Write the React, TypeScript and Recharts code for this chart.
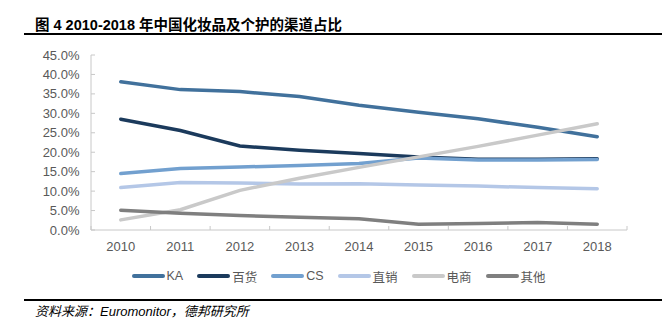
import React from "react";
import { LineChart, Line, XAxis, YAxis } from "recharts";

const years = ["2010", "2011", "2012", "2013", "2014", "2015", "2016", "2017", "2018"];
const seriesNames = ["KA", "百货", "CS", "直销", "电商", "其他"];
const seriesColors = ["#41719c", "#1b3a5c", "#72a0cf", "#b4c7e7", "#c9c9c9", "#7f7f7f"];
const ka = [38.1, 36.1, 35.6, 34.3, 32.1, 30.3, 28.6, 26.4, 24.0];
const baihuo = [28.5, 25.6, 21.6, 20.5, 19.7, 18.8, 18.2, 18.2, 18.3];
const cs = [14.5, 15.8, 16.2, 16.6, 17.1, 18.5, 18.0, 18.0, 18.1];
const zhixiao = [10.9, 12.2, 12.1, 11.8, 11.9, 11.6, 11.3, 10.9, 10.6];
const dianshang = [2.6, 5.2, 10.2, 13.3, 16.1, 18.8, 21.5, 24.4, 27.3];
const qita = [5.1, 4.3, 3.7, 3.3, 2.9, 1.5, 1.7, 1.9, 1.5];
const yTicks = [0, 5, 10, 15, 20, 25, 30, 35, 40, 45];

const seriesValues = [ka, baihuo, cs, zhixiao, dianshang, qita];
const data = years.map((y, i) => {
  const row: Record<string, number | string> = { i, year: y };
  seriesNames.forEach((n, k) => {
    row[n] = seriesValues[k][i];
  });
  return row;
});
const xTicks: number[] = [];
for (let k = -0.5; k <= years.length - 0.5 + 1e-9; k += 0.5) xTicks.push(k);

const TEXT = "#595959";
const AXIS = "#c8c8c8";
const FONT = "'Liberation Sans', Arial, 'Noto Sans CJK SC', sans-serif";

const XTick = (props: any) => {
  const { x, y, payload } = props;
  const v = payload.value;
  if (Number.isInteger(v)) {
    return (
      <text x={x} y={y + 16.5} dy="0.35em" textAnchor="middle" fill={TEXT} fontSize={13} fontFamily={FONT}>
        {years[v]}
      </text>
    );
  }
  return <line x1={x} x2={x} y1={y} y2={y - 4} stroke={AXIS} strokeWidth={1} />;
};

const YTick = (props: any) => {
  const { x, y, payload } = props;
  return (
    <g>
      <line x1={x} x2={x + 4} y1={y} y2={y} stroke={AXIS} strokeWidth={1} />
      <text x={x - 11.5} y={y} dy="0.35em" textAnchor="end" fill={TEXT} fontSize={13} fontFamily={FONT}>
        {`${payload.value.toFixed(1)}%`}
      </text>
    </g>
  );
};

export default function App() {
  return (
    <div style={{ position: "absolute", left: 0, top: 0, width: 662, height: 334, background: "#fff", fontFamily: FONT }}>
      <div
        style={{
          position: "absolute",
          left: 35,
          top: 15,
          fontSize: 14.5,
          fontWeight: "bold",
          color: "#000",
          whiteSpace: "nowrap",
          lineHeight: "20px",
          fontFamily: "'Liberation Sans', Arial, 'Noto Sans CJK SC', sans-serif",
        }}
      >
        图 4 2010-2018 年中国化妆品及个护的渠道占比
      </div>
      <div style={{ position: "absolute", left: 24, top: 33, width: 638, height: 1.5, background: "#000" }} />
      <LineChart
        width={662}
        height={334}
        data={data}
        margin={{ top: 55, right: 35, bottom: 74, left: 0 }}
        style={{ position: "absolute", left: 0, top: 0 }}
      >
        <XAxis
          dataKey="i"
          type="number"
          domain={[-0.5, years.length - 0.5]}
          ticks={xTicks}
          interval={0}
          tick={<XTick />}
          tickLine={false}
          tickSize={0}
          tickMargin={0}
          height={30}
          stroke={AXIS}
          axisLine={{ stroke: AXIS, strokeWidth: 1 }}
        />
        <YAxis
          type="number"
          domain={[0, 45]}
          ticks={yTicks}
          interval={0}
          tick={<YTick />}
          tickLine={false}
          tickSize={0}
          tickMargin={0}
          width={91}
          axisLine={{ stroke: AXIS, strokeWidth: 1 }}
        />
        {seriesNames.map((n, k) => (
          <Line
            key={n}
            dataKey={n}
            type="linear"
            stroke={seriesColors[k]}
            strokeWidth={3.5}
            strokeLinecap="round"
            dot={false}
            activeDot={false}
            isAnimationActive={false}
          />
        ))}
      </LineChart>
      <div
        style={{
          position: "absolute",
          left: 131.5,
          top: 268,
          height: 16,
          display: "flex",
          alignItems: "center",
          fontSize: 12.5,
          color: TEXT,
          whiteSpace: "nowrap",
        }}
      >
        {seriesNames.map((n, k) => (
          <div key={n} style={{ display: "flex", alignItems: "center", marginRight: 14 }}>
            <div style={{ width: 33, height: 3.5, borderRadius: 2, background: seriesColors[k], marginRight: 2 }} />
            <span>{n}</span>
          </div>
        ))}
      </div>
      <div style={{ position: "absolute", left: 24, top: 299, width: 638, height: 2, background: "#000" }} />
      <div
        style={{
          position: "absolute",
          left: 35,
          top: 304,
          fontSize: 13,
          fontStyle: "italic",
          color: "#000",
          whiteSpace: "nowrap",
          lineHeight: "16px",
        }}
      >
        资料来源：Euromonitor，德邦研究所
      </div>
    </div>
  );
}
